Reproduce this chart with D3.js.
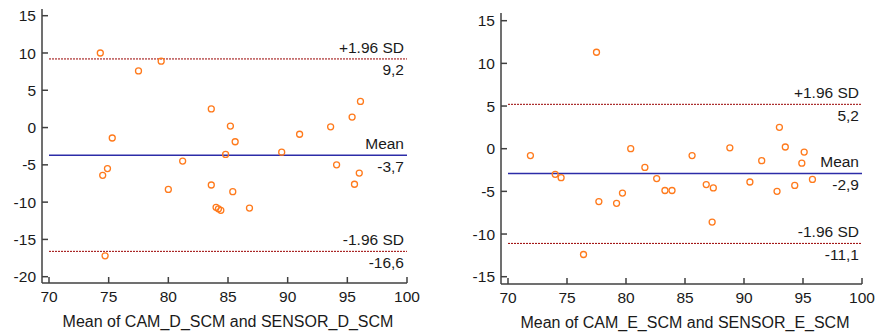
<!DOCTYPE html>
<html>
<head>
<meta charset="utf-8">
<script src="https://cdn.jsdelivr.net/npm/d3@7"></script>
<style>
  body { margin: 0; background: #fff; }
  svg { display: block; font-family: "Liberation Sans", Arial, sans-serif; }
</style>
</head>
<body>
<svg id="chart" width="876" height="333"></svg>
<script>
// left panel: CAM_D_SCM vs SENSOR_D_SCM
const meanD = [74.3, 77.5, 79.4, 83.6, 75.3, 81.2, 74.9, 74.5, 80.0, 83.6, 84.0, 84.2, 84.4, 74.7,
  85.2, 85.6, 84.8, 89.5, 91.0, 93.6, 95.4, 96.1, 94.1, 96.0, 95.6, 85.4, 86.8];
const diffD = [10.0, 7.6, 8.9, 2.5, -1.4, -4.5, -5.5, -6.4, -8.3, -7.7, -10.7, -10.9, -11.1, -17.2,
  0.2, -1.9, -3.6, -3.3, -0.9, 0.1, 1.4, 3.5, -5.0, -6.1, -7.6, -8.6, -10.8];
const linesD = [9.2, -3.7, -16.6];
const ticksYD = [15, 10, 5, 0, -5, -10, -15, -20];

// right panel: CAM_E_SCM vs SENSOR_E_SCM
const meanE = [71.9, 77.5, 80.4, 81.6, 85.6, 88.8, 91.5, 93.0, 93.5, 95.1, 94.9, 74.0, 74.5, 77.7,
  79.2, 79.7, 82.6, 83.3, 83.9, 76.4, 86.8, 87.4, 90.5, 92.8, 94.3, 95.8, 87.3];
const diffE = [-0.8, 11.3, 0.0, -2.2, -0.8, 0.1, -1.4, 2.5, 0.2, -0.4, -1.7, -3.0, -3.4, -6.2,
  -6.4, -5.2, -3.5, -4.9, -4.9, -12.4, -4.2, -4.6, -3.9, -5.0, -4.3, -3.6, -8.6];
const linesE = [5.2, -2.9, -11.1];
const ticksYE = [15, 10, 5, 0, -5, -10, -15];

const ticksX = [70, 75, 80, 85, 90, 95, 100];
const lineLabels = ["+1.96 SD", "Mean", "-1.96 SD"];

const svg = d3.select("#chart");
const ink = "#1a1a1a";

function drawPanel(p) {
  const g = svg.append("g");
  const x = d3.scaleLinear().domain([70, 100]).range([p.x0, p.x1]);
  const y = d3.scaleLinear().domain(p.yDomain).range(p.yRange);

  // axes lines
  g.append("line")
    .attr("x1", p.axisX).attr("x2", p.axisX)
    .attr("y1", p.axisTop).attr("y2", p.axisY)
    .attr("stroke", "#404040").attr("stroke-width", 1.5);
  g.append("line")
    .attr("x1", p.axisX).attr("x2", x(100))
    .attr("y1", p.axisY).attr("y2", p.axisY)
    .attr("stroke", "#404040").attr("stroke-width", 1.5);

  // y ticks
  const yt = g.selectAll(".yt").data(p.ticksY).enter().append("g");
  yt.append("line")
    .attr("x1", p.axisX).attr("x2", p.axisX + 6)
    .attr("y1", d => y(d)).attr("y2", d => y(d))
    .attr("stroke", "#404040").attr("stroke-width", 1.5);
  yt.append("text")
    .attr("x", p.axisX - 6).attr("y", d => y(d))
    .attr("dy", "0.36em")
    .attr("text-anchor", "end")
    .attr("font-size", 15.5).attr("fill", ink)
    .text(d => d);

  // x ticks
  const xt = g.selectAll(".xt").data(ticksX).enter().append("g");
  xt.append("line")
    .attr("x1", d => x(d)).attr("x2", d => x(d))
    .attr("y1", p.axisY).attr("y2", p.axisY - 6)
    .attr("stroke", "#404040").attr("stroke-width", 1.5);
  xt.append("text")
    .attr("x", d => x(d)).attr("y", p.axisY + 18.5)
    .attr("text-anchor", "middle")
    .attr("font-size", 15.5).attr("fill", ink)
    .text(d => d);

  g.append("text")
    .attr("x", (x(70) + x(100)) / 2).attr("y", p.axisY + 43.5)
    .attr("text-anchor", "middle")
    .attr("font-size", 16).attr("fill", ink)
    .text(p.title);

  // reference lines
  p.lines.forEach((v, i) => {
    const isMean = i === 1;
    g.append("line")
      .attr("x1", x(70)).attr("x2", x(100))
      .attr("y1", y(v)).attr("y2", y(v))
      .attr("stroke", isMean ? "#2c2ca8" : "#9a0000")
      .attr("stroke-width", isMean ? 1.5 : 1)
      .attr("stroke-dasharray", isMean ? null : "2,1");
    g.append("text")
      .attr("x", x(100) - 3).attr("y", y(v) - 6)
      .attr("text-anchor", "end")
      .attr("font-size", 15.5).attr("fill", ink)
      .text(lineLabels[i]);
    g.append("text")
      .attr("x", x(100) - 3).attr("y", y(v) + 16.5)
      .attr("text-anchor", "end")
      .attr("font-size", 15.5).attr("fill", ink)
      .text(String(v.toFixed(1)).replace(".", ","));
  });

  // points
  g.selectAll(".pt").data(p.mean).enter().append("circle")
    .attr("cx", d => x(d))
    .attr("cy", (d, i) => y(p.diff[i]))
    .attr("r", 3)
    .attr("fill", "none")
    .attr("stroke", "#ff7a1c")
    .attr("stroke-width", 1.3);
}

drawPanel({
  x0: 49, x1: 407, axisX: 42, axisY: 283, axisTop: 9,
  yDomain: [-20, 15], yRange: [276.7, 15.7],
  ticksY: ticksYD, lines: linesD, mean: meanD, diff: diffD,
  title: "Mean of CAM_D_SCM and SENSOR_D_SCM"
});

drawPanel({
  x0: 508, x1: 862, axisX: 501, axisY: 284, axisTop: 13,
  yDomain: [-15, 15], yRange: [276.7, 20.7],
  ticksY: ticksYE, lines: linesE, mean: meanE, diff: diffE,
  title: "Mean of CAM_E_SCM and SENSOR_E_SCM"
});
</script>
</body>
</html>
